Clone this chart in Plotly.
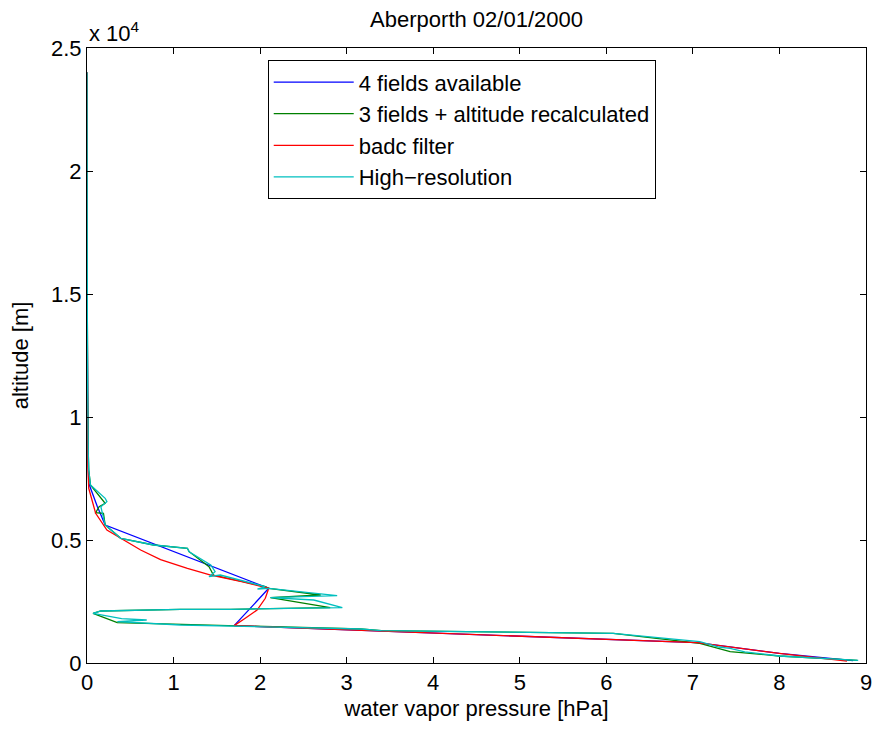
import plotly.graph_objects as go

# ---- data (water vapor pressure [hPa], altitude [m]) ----
blue_p = [8.85, 8.0, 7.05, 1.70, 2.10, 0.21, 0.12, 0.02, 0.012, 0.008, 0.004, 0.002, 0.001, 0.0005]
blue_z = [100, 394, 826, 1518, 3036, 5610, 6354, 7305, 8500, 10000, 13000, 16000, 20000, 24000]

green_p = [8.90, 8.0, 7.43, 7.08, 6.08, 4.5, 3.4, 3.16, 1.70, 1.08, 0.35, 0.07, 0.16, 1.08, 1.66, 2.81,
           2.12, 2.70, 2.10, 2.06, 1.46, 1.41, 1.18, 1.16, 0.77, 0.39, 0.21, 0.19, 0.10, 0.14, 0.21,
           0.04, 0.02, 0.015, 0.01, 0.007, 0.004, 0.002, 0.001, 0.0005]
green_z = [110, 285, 460, 800, 1206, 1265, 1313, 1382, 1518, 1545, 1640, 2020, 2114, 2183, 2183, 2248,
           2655, 2764, 3036, 3103, 3577, 3915, 4525, 4662, 4797, 5069, 5610, 6085, 6110, 6354, 6492,
           7236, 7846, 8500, 9500, 11000, 14000, 17000, 20000, 24000]

red_p = [8.78, 8.0, 7.05, 1.70, 1.82, 1.965, 2.06, 2.10, 1.80, 1.43, 1.16, 0.85, 0.62, 0.43, 0.23,
         0.10, 0.02, 0.01, 0.007, 0.004, 0.002, 0.001, 0.0005]
red_z = [80, 394, 826, 1518, 1800, 2154, 2630, 3036, 3300, 3577, 3850, 4200, 4593, 5000, 5407,
         6085, 7102, 8000, 9500, 12000, 16000, 20000, 24000]

cyan_p = [8.91, 8.0, 7.6, 7.43, 7.3, 7.08, 6.08, 4.5, 3.4, 3.16, 1.70, 1.08, 0.35, 0.69, 0.40, 0.16,
          0.07, 0.16, 1.08, 1.66, 2.95, 2.62, 2.12, 2.89, 2.10, 1.97, 2.06, 1.54, 1.41, 1.48, 1.43,
          1.18, 1.16, 0.77, 0.39, 0.21, 0.18, 0.16, 0.23, 0.21, 0.04, 0.02, 0.015, 0.01, 0.008,
          0.004, 0.002, 0.001, 0.0005]
cyan_z = [110, 285, 450, 597, 650, 866, 1206, 1265, 1313, 1382, 1518, 1545, 1680, 1748, 1800, 1951,
          2020, 2114, 2183, 2183, 2248, 2561, 2655, 2736, 3036, 3008, 3103, 3577, 3508, 3711, 3984,
          4525, 4662, 4797, 5069, 5610, 6085, 6354, 6557, 6695, 7236, 7846, 8500, 9500, 11000,
          14000, 17000, 20000, 24000]

series_names = ["4 fields available", "3 fields + altitude recalculated", "badc filter", "High\u2212resolution"]
series_colors = ["#0000ff", "#008000", "#ff0000", "#00bfbf"]

y_tickvals = [0, 5000, 10000, 15000, 20000, 25000]
y_ticktext = ["0", "0.5", "1", "1.5", "2", "2.5"]
x_tickvals = [0, 1, 2, 3, 4, 5, 6, 7, 8, 9]

FONT = "Liberation Sans, Arial, Helvetica, sans-serif"
FS = 22

fig = go.Figure()
for name, col, px_, pz in zip(series_names, series_colors,
                              [blue_p, green_p, red_p, cyan_p],
                              [blue_z, green_z, red_z, cyan_z]):
    fig.add_trace(go.Scatter(x=px_, y=pz, mode="lines", name=name,
                             line=dict(color=col, width=1.3)))

axis_common = dict(showline=True, linecolor="black", linewidth=1, mirror="ticks",
                   ticks="inside", ticklen=6, tickcolor="black", showgrid=False,
                   zeroline=False, automargin=False,
                   tickfont=dict(family=FONT, size=FS, color="black"))

fig.update_layout(
    width=876, height=730,
    margin=dict(l=87, r=10, t=48, b=67),
    paper_bgcolor="white", plot_bgcolor="white",
    font=dict(family=FONT, color="black"),
    title=dict(text="Aberporth 02/01/2000", x=0.544, xanchor="center", y=0.973, yanchor="middle",
               font=dict(family=FONT, size=FS, color="black")),
    xaxis=dict(range=[0, 9], tickvals=x_tickvals,
               title=dict(text="water vapor pressure [hPa]", standoff=6,
                          font=dict(family=FONT, size=FS, color="black")),
               **axis_common),
    yaxis=dict(range=[0, 25000], tickvals=y_tickvals, ticktext=y_ticktext,
               title=dict(text="altitude [m]", standoff=16,
                          font=dict(family=FONT, size=FS, color="black")),
               **axis_common),
    legend=dict(x=0.232, y=0.98, xanchor="left", yanchor="top",
                bgcolor="white", bordercolor="black", borderwidth=1,
                font=dict(family=FONT, size=FS, color="black"),
                itemwidth=80, tracegroupgap=0),
    showlegend=True,
)

fig.add_annotation(text="x 10<sup>4</sup>", xref="paper", yref="paper", x=0.0, y=1.0,
                   xanchor="left", yanchor="bottom", showarrow=False, yshift=0,
                   font=dict(family=FONT, size=22, color="black"))

fig.write_html("out.html")
